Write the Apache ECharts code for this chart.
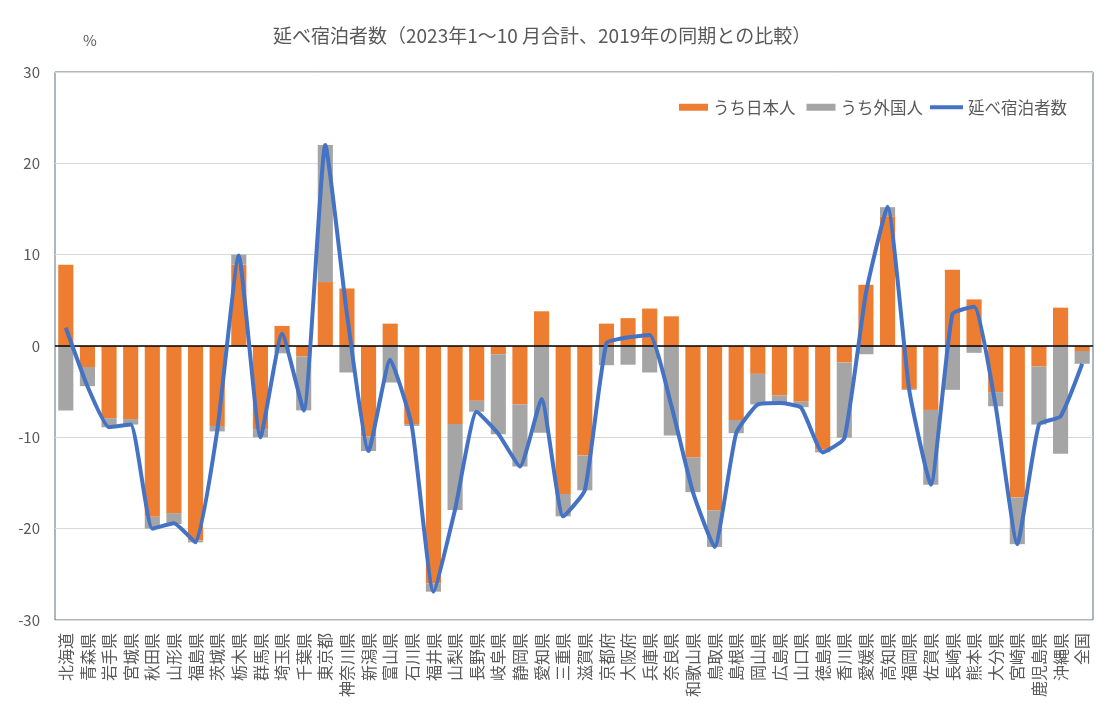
<!DOCTYPE html>
<html>
<head>
<meta charset="utf-8">
<script src="https://cdn.jsdelivr.net/npm/echarts@6/dist/echarts.min.js"></script>
<style>
  html, body { margin: 0; padding: 0; background: #fff; }
  #main { width: 1109px; height: 719px; }
</style>
</head>
<body>
<div id="main"></div>
<script>
const chart = echarts.init(document.getElementById('main'))

// 都道府県
const prefectures = ['北海道', '青森県', '岩手県', '宮城県', '秋田県', '山形県', '福島県', '茨城県', '栃木県', '群馬県',
  '埼玉県', '千葉県', '東京都', '神奈川県', '新潟県', '富山県', '石川県', '福井県', '山梨県', '長野県',
  '岐阜県', '静岡県', '愛知県', '三重県', '滋賀県', '京都府', '大阪府', '兵庫県', '奈良県', '和歌山県',
  '鳥取県', '島根県', '岡山県', '広島県', '山口県', '徳島県', '香川県', '愛媛県', '高知県', '福岡県',
  '佐賀県', '長崎県', '熊本県', '大分県', '宮崎県', '鹿児島県', '沖縄県', '全国']

// うち日本人 (%)
const japanese = [8.9, -2.3, -7.9, -8.0, -18.7, -18.3, -21.3, -8.75, 8.9, -9.1,
  2.2, -1.15, 7.0, 6.3, -9.9, 2.45, -8.55, -26.0, -8.55, -6.0,
  -0.9, -6.4, 3.8, -16.2, -12.0, 2.45, 3.05, 4.1, 3.25, -12.2,
  -18.0, -8.1, -3.05, -5.4, -6.1, -11.3, -1.8, 6.7, 14.2, -4.7,
  -7.0, 8.35, 5.1, -5.05, -16.6, -2.25, 4.2, -0.55]

// うち外国人 (%)
const foreign = [-7.05, -2.1, -1.0, -0.6, -1.3, -1.2, -0.2, -0.6, 1.1, -0.9,
  -0.8, -5.9, 15.0, -2.9, -1.6, -4.0, -0.2, -0.9, -9.4, -1.2,
  -8.75, -6.8, -9.5, -2.45, -3.8, -2.1, -2.05, -2.9, -9.8, -3.8,
  -4.0, -1.45, -3.35, -0.85, -0.6, -0.35, -8.25, -0.9, 1.0, -0.1,
  -8.2, -4.8, -0.75, -1.55, -5.1, -6.35, -11.8, -1.4]

// 延べ宿泊者数 (%)
const totals = [2.0, -4.4, -8.9, -8.6, -20.0, -19.4, -21.5, -9.3, 9.9, -10.0,
  1.35, -7.05, 22.0, 3.5, -11.5, -1.5, -8.75, -26.9, -17.9, -7.2,
  -9.6, -13.2, -5.8, -18.65, -15.8, 0.3, 0.95, 1.2, -6.5, -16.0,
  -22.0, -9.55, -6.4, -6.25, -6.75, -11.65, -10.1, 5.8, 15.25, -4.8,
  -15.2, 3.5, 4.3, -6.6, -21.7, -8.6, -7.7, -1.95]

const yTicks = { min: -30, max: 30, interval: 10 }

const font = 'Noto Sans CJK JP'
const textColor = '#595959'
const legendText = { fontFamily: font, fontSize: 16.5, color: textColor }

const option = {
  backgroundColor: '#fff',
  textStyle: { fontFamily: font },
  title: {
    text: '延べ宿泊者数（2023年1～10 月合計、2019年の同期との比較）',
    left: 268,
    top: 21,
    textStyle: { fontFamily: font, fontSize: 19, fontWeight: 'normal', color: textColor }
  },
  graphic: [
    {
      type: 'text',
      left: 83,
      top: 33,
      style: { text: '%', fontFamily: font, fontSize: 15, fill: textColor }
    }
  ],
  legend: [
    {
      left: 674,
      top: 94,
      itemWidth: 29,
      itemHeight: 7,
      itemGap: 11,
      textStyle: legendText,
      data: [
        { name: 'うち日本人', icon: 'rect' },
        { name: 'うち外国人', icon: 'rect' }
      ]
    },
    {
      left: 925,
      top: 94,
      itemWidth: 33,
      itemHeight: 4,
      textStyle: legendText,
      data: [{ name: '延べ宿泊者数', icon: 'rect' }]
    }
  ],
  grid: {
    left: 55,
    right: 16,
    top: 72,
    bottom: 99,
    show: true,
    borderColor: '#5e6e7c',
    borderWidth: 1
  },
  xAxis: {
    type: 'category',
    data: prefectures,
    axisLine: { show: false, onZero: false },
    axisTick: { show: false },
    axisLabel: {
      interval: 0,
      rotate: 90,
      margin: 13,
      fontFamily: font,
      fontSize: 16,
      color: textColor
    }
  },
  yAxis: {
    type: 'value',
    min: yTicks.min,
    max: yTicks.max,
    interval: yTicks.interval,
    axisLine: { show: false },
    axisTick: { show: false },
    axisLabel: { margin: 15, fontFamily: font, fontSize: 15, color: textColor },
    splitLine: { lineStyle: { color: '#d9d9d9', width: 1 } }
  },
  series: [
    {
      name: 'うち日本人',
      type: 'bar',
      stack: 'all',
      barWidth: '70%',
      itemStyle: { color: '#ED7D31' },
      data: japanese,
      markLine: {
        silent: true,
        symbol: 'none',
        label: { show: false },
        lineStyle: { color: '#000', width: 1.5, type: 'solid' },
        data: [{ yAxis: 0 }]
      }
    },
    {
      name: 'うち外国人',
      type: 'bar',
      stack: 'all',
      itemStyle: { color: '#A5A5A5' },
      data: foreign
    },
    {
      name: '延べ宿泊者数',
      type: 'line',
      smooth: 0.15,
      symbol: 'none',
      lineStyle: { color: '#4472C4', width: 4 },
      itemStyle: { color: '#4472C4' },
      z: 5,
      data: totals
    }
  ]
}

chart.setOption(option)
</script>
</body>
</html>
